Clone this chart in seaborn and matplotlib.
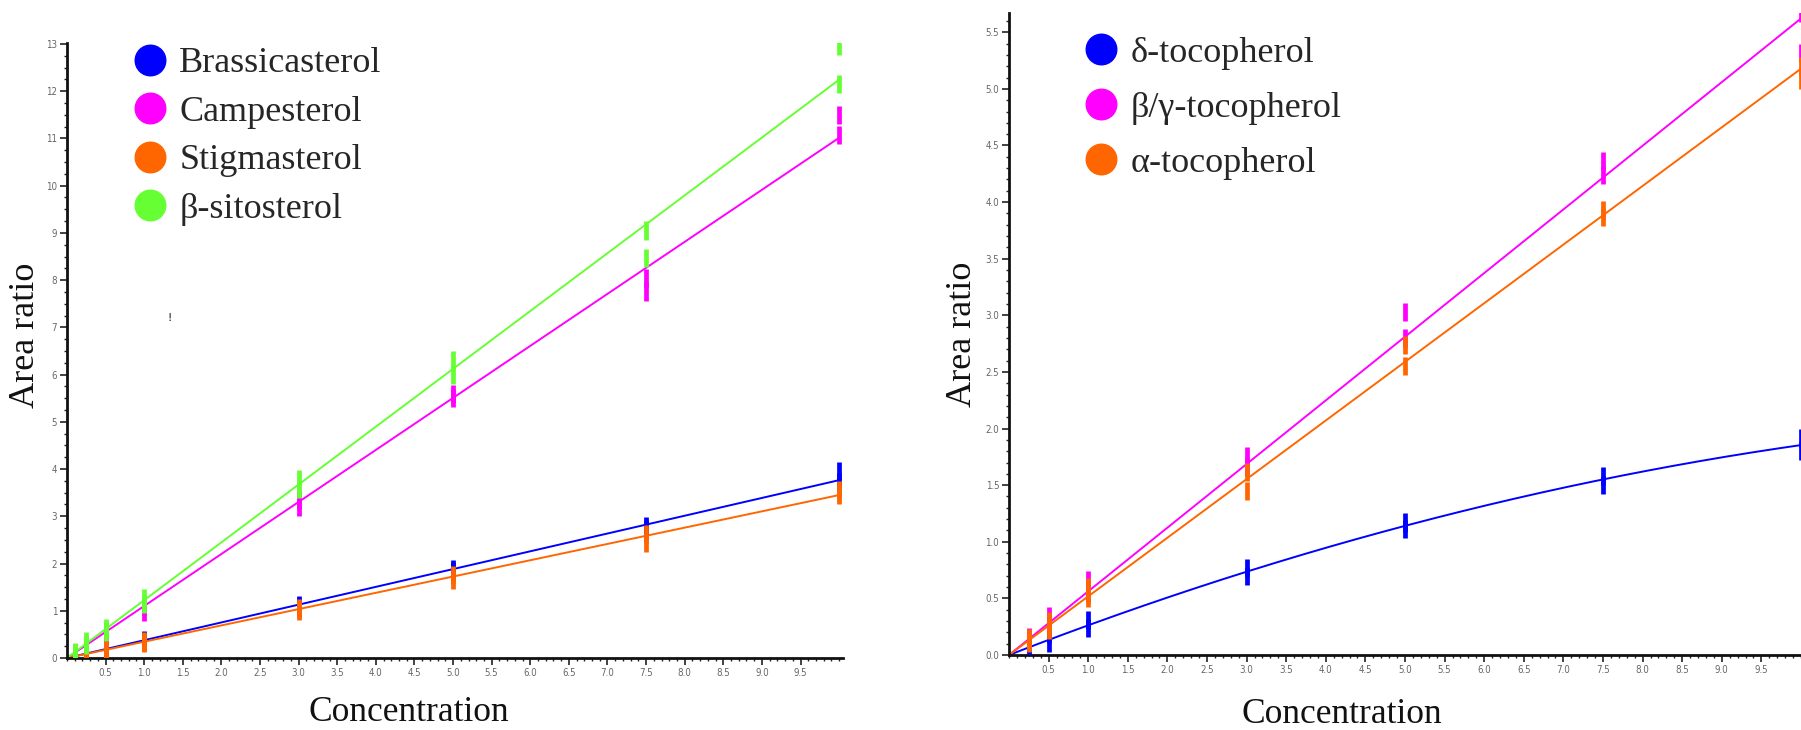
import numpy as np
import pandas as pd
import matplotlib
matplotlib.use("Agg")
import matplotlib.pyplot as plt
from matplotlib.lines import Line2D
from matplotlib.ticker import MultipleLocator, FixedLocator
import seaborn as sns

# ---------------- data ----------------
conc_sterol = [0.1, 0.25, 0.5, 1.0, 3.0, 5.0, 7.5, 10.0]
sterol_names = ["Brassicasterol", "Campesterol", "Stigmasterol", "β-sitosterol"]
brassica_r1 = [0.04, 0.10, 0.19, 0.39, 1.13, 1.89, 2.79, 3.95]
brassica_r2 = [0.06, 0.08, 0.17, 0.36, 1.07, 1.84, 2.72, 3.72]
campe_r1 = [0.10, 0.27, 0.56, 1.10, 3.34, 5.58, 8.04, 11.50]
campe_r2 = [0.08, 0.24, 0.50, 0.98, 3.20, 5.50, 7.76, 11.07]
stigma_r1 = [0.04, 0.09, 0.17, 0.35, 1.06, 1.75, 2.62, 3.56]
stigma_r2 = [0.05, 0.07, 0.14, 0.32, 1.00, 1.66, 2.43, 3.46]
sito_r1 = [0.12, 0.35, 0.63, 1.26, 3.78, 6.30, 9.05, 12.95]
sito_r2 = [0.10, 0.28, 0.55, 1.15, 3.58, 6.00, 8.46, 12.15]

conc_toco = [0.25, 0.5, 1.0, 3.0, 5.0, 7.5, 10.0]
toco_names = ["δ-tocopherol", "β/γ-tocopherol", "α-tocopherol"]
delta_r1 = [0.10, 0.19, 0.31, 0.77, 1.17, 1.58, 1.92]
delta_r2 = [0.06, 0.11, 0.24, 0.70, 1.11, 1.50, 1.80]
betagam_r1 = [0.16, 0.34, 0.66, 1.76, 3.03, 4.36, 5.67]
betagam_r2 = [0.12, 0.25, 0.55, 1.66, 2.80, 4.24, 5.32]
alpha_r1 = [0.15, 0.30, 0.60, 1.62, 2.74, 3.93, 5.20]
alpha_r2 = [0.11, 0.22, 0.50, 1.45, 2.55, 3.87, 5.08]

fit_degree_toco = {"δ-tocopherol": 2, "β/γ-tocopherol": 1, "α-tocopherol": 1}
fit_degree_sterol = {n: 1 for n in sterol_names}

x_tick_labels = ["0.5", "1.0", "1.5", "2.0", "2.5", "3.0", "3.5", "4.0", "4.5",
                 "5.0", "5.5", "6.0", "6.5", "7.0", "7.5", "8.0", "8.5", "9.0", "9.5"]

sterol_colors = ["#0000ff", "#ff00ff", "#ff6600", "#66ff33"]
toco_colors = ["#0000ff", "#ff00ff", "#ff6600"]


def long_df(conc, names, reps):
    rows = []
    for name, (r1, r2) in zip(names, reps):
        for c, a, b in zip(conc, r1, r2):
            rows.append((name, c, a))
            rows.append((name, c, b))
    return pd.DataFrame(rows, columns=["compound", "conc", "ratio"])


df_s = long_df(conc_sterol, sterol_names,
               [(brassica_r1, brassica_r2), (campe_r1, campe_r2),
                (stigma_r1, stigma_r2), (sito_r1, sito_r2)])
df_t = long_df(conc_toco, toco_names,
               [(delta_r1, delta_r2), (betagam_r1, betagam_r2), (alpha_r1, alpha_r2)])

# ---------------- style ----------------
sns.set_theme(style="ticks")
plt.rcParams["font.family"] = ["Liberation Serif", "DejaVu Serif"]

fig = plt.figure(figsize=(18.01, 7.30), dpi=100)
ax1 = fig.add_axes([67 / 1801, 72 / 730, (843 - 67) / 1801, (658 - 43) / 730])
ax2 = fig.add_axes([1009 / 1801, 75 / 730, (1801 - 1009) / 1801, (655 - 13) / 730])


def fit_curve(df, name, deg):
    sub = df[df.compound == name]
    x = sub.conc.to_numpy()
    y = sub.ratio.to_numpy()
    A = np.vstack([x ** k for k in range(1, deg + 1)]).T
    coef, *_ = np.linalg.lstsq(A, y, rcond=None)
    xs = np.linspace(0, 10, 300)
    ys = sum(coef[k - 1] * xs ** k for k in range(1, deg + 1))
    return pd.DataFrame({"conc": xs, "ratio": ys})


def draw(ax, df, names, colors, degrees, xlim, ylim, ymajor, yminor, yfmt):
    pal = dict(zip(names, colors))
    for name in names:
        fd = fit_curve(df, name, degrees[name])
        sns.lineplot(data=fd, x="conc", y="ratio", color=pal[name], lw=1.4,
                     ax=ax, legend=False)
    sns.scatterplot(data=df, x="conc", y="ratio", hue="compound", palette=pal,
                    marker="|", s=170, linewidth=3.4, ax=ax, legend=False,
                    zorder=5)
    ax.set_xlim(*xlim)
    ax.set_ylim(*ylim)
    sns.despine(ax=ax)
    for sp in ("left", "bottom"):
        ax.spines[sp].set_linewidth(2.0)
        ax.spines[sp].set_color("#111111")
    ax.xaxis.set_major_locator(FixedLocator(np.arange(0.5, 10.0, 0.5)))
    ax.set_xticklabels(x_tick_labels)
    ax.xaxis.set_minor_locator(MultipleLocator(0.1))
    ax.yaxis.set_major_locator(MultipleLocator(ymajor))
    ax.yaxis.set_minor_locator(MultipleLocator(yminor))
    ax.yaxis.set_major_formatter(plt.FormatStrFormatter(yfmt))
    ax.tick_params(axis="both", which="major", length=5, width=1.2,
                   direction="out", colors="#222222", labelcolor="#666666",
                   labelsize=7, pad=2)
    ax.tick_params(axis="both", which="minor", length=2.5, width=1.0,
                   direction="out", colors="#222222")
    for lab in ax.get_xticklabels() + ax.get_yticklabels():
        lab.set_family(["DejaVu Sans"])
        lab.set_fontstretch("condensed")
    ax.set_xlabel("Concentration", fontsize=25.5, color="#111111")
    ax.set_ylabel("Area ratio", fontsize=26, color="#111111")
    handles = [Line2D([], [], ls="", marker="o", markersize=22,
                      markerfacecolor=c, markeredgecolor=c) for c in colors]
    return handles


h1 = draw(ax1, df_s, sterol_names, sterol_colors, fit_degree_sterol,
          (0, 10.05), (0, 13.02), 1, 0.25, "%d")
h2 = draw(ax2, df_t, toco_names, toco_colors, fit_degree_toco,
          (0, 10.0), (0, 5.67), 0.5, 0.1, "%.1f")

ax1.legend(h1, sterol_names, loc="upper left", bbox_to_anchor=(0.061, 1.017),
           frameon=False, fontsize=26, handletextpad=0.2, labelspacing=0.42,
           borderaxespad=0, handlelength=1.2)
ax2.legend(h2, toco_names, loc="upper left", bbox_to_anchor=(0.071, 0.986),
           frameon=False, fontsize=26, handletextpad=0.2, labelspacing=0.6,
           borderaxespad=0, handlelength=1.2)

fig.text(170 / 1801, 1 - 318 / 730, "!", fontsize=9, ha="center", va="center",
         color="#111111")

ax1.yaxis.set_label_coords(-0.032, 0.525)
ax2.yaxis.set_label_coords(-0.038, 0.50)
ax1.xaxis.set_label_coords(0.44, -0.062)
ax2.xaxis.set_label_coords(0.42, -0.067)

fig.savefig("out.png", dpi=100)
